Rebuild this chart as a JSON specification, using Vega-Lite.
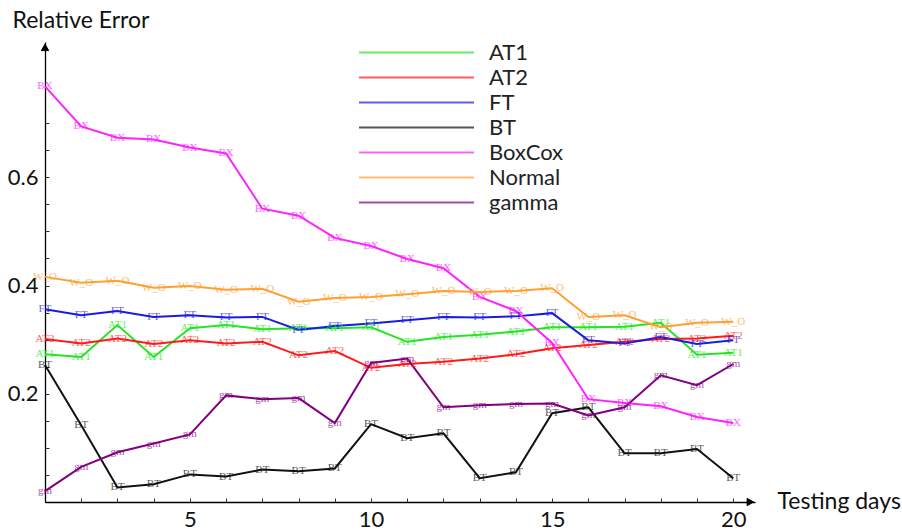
{
  "$schema": "https://vega.github.io/schema/vega-lite/v6.json",
  "width": 710,
  "height": 460,
  "autosize": {"type": "none"},
  "padding": {"left": 45, "top": 42, "right": 147, "bottom": 29},
  "background": "white",
  "config": {
    "view": {"stroke": null},
    "font": "Lato",
    "axis": {"grid": false, "domainColor": "#000", "domainWidth": 1.3, "tickColor": "#333", "tickWidth": 1, "labelColor": "#111", "titleColor": "#111", "labelFont": "Lato", "titleFont": "Lato", "labelFontSize": 22, "titleFontSize": 23, "titleFontWeight": "normal", "labelOverlap": false}
  },
  "datasets": {
    "codes": [
      {"m": "AT1", "code": "AT1"}, {"m": "AT2", "code": "AT2"}, {"m": "FT", "code": "FT"}, {"m": "BT", "code": "BT"},
      {"m": "BoxCox", "code": "BX"}, {"m": "Normal", "code": "W_O"}, {"m": "gamma", "code": "gm"}
    ],
    "arrows": [
      {"d": 20.47, "v": 0, "shape": "triangle-right"},
      {"d": 1, "v": 0.84, "shape": "triangle-up"}
    ],
    "errs": [
      {"m":"AT1","d":1,"v":0.273},{"m":"AT1","d":2,"v":0.268},{"m":"AT1","d":3,"v":0.327},{"m":"AT1","d":4,"v":0.268},{"m":"AT1","d":5,"v":0.321},{"m":"AT1","d":6,"v":0.327},{"m":"AT1","d":7,"v":0.319},{"m":"AT1","d":8,"v":0.321},{"m":"AT1","d":9,"v":0.321},{"m":"AT1","d":10,"v":0.323},{"m":"AT1","d":11,"v":0.296},{"m":"AT1","d":12,"v":0.305},{"m":"AT1","d":13,"v":0.309},{"m":"AT1","d":14,"v":0.315},{"m":"AT1","d":15,"v":0.323},{"m":"AT1","d":16,"v":0.323},{"m":"AT1","d":17,"v":0.324},{"m":"AT1","d":18,"v":0.331},{"m":"AT1","d":19,"v":0.272},{"m":"AT1","d":20,"v":0.276},
      {"m":"AT2","d":1,"v":0.301},{"m":"AT2","d":2,"v":0.293},{"m":"AT2","d":3,"v":0.302},{"m":"AT2","d":4,"v":0.292},{"m":"AT2","d":5,"v":0.299},{"m":"AT2","d":6,"v":0.293},{"m":"AT2","d":7,"v":0.296},{"m":"AT2","d":8,"v":0.271},{"m":"AT2","d":9,"v":0.279},{"m":"AT2","d":10,"v":0.248},{"m":"AT2","d":11,"v":0.255},{"m":"AT2","d":12,"v":0.259},{"m":"AT2","d":13,"v":0.265},{"m":"AT2","d":14,"v":0.273},{"m":"AT2","d":15,"v":0.284},{"m":"AT2","d":16,"v":0.290},{"m":"AT2","d":17,"v":0.296},{"m":"AT2","d":18,"v":0.301},{"m":"AT2","d":19,"v":0.302},{"m":"AT2","d":20,"v":0.307},
      {"m":"FT","d":1,"v":0.356},{"m":"FT","d":2,"v":0.345},{"m":"FT","d":3,"v":0.353},{"m":"FT","d":4,"v":0.342},{"m":"FT","d":5,"v":0.345},{"m":"FT","d":6,"v":0.341},{"m":"FT","d":7,"v":0.342},{"m":"FT","d":8,"v":0.318},{"m":"FT","d":9,"v":0.325},{"m":"FT","d":10,"v":0.330},{"m":"FT","d":11,"v":0.336},{"m":"FT","d":12,"v":0.342},{"m":"FT","d":13,"v":0.341},{"m":"FT","d":14,"v":0.343},{"m":"FT","d":15,"v":0.349},{"m":"FT","d":16,"v":0.299},{"m":"FT","d":17,"v":0.293},{"m":"FT","d":18,"v":0.305},{"m":"FT","d":19,"v":0.292},{"m":"FT","d":20,"v":0.299},
      {"m":"BT","d":1,"v":0.253},{"m":"BT","d":2,"v":0.142},{"m":"BT","d":3,"v":0.027},{"m":"BT","d":4,"v":0.033},{"m":"BT","d":5,"v":0.051},{"m":"BT","d":6,"v":0.047},{"m":"BT","d":7,"v":0.060},{"m":"BT","d":8,"v":0.057},{"m":"BT","d":9,"v":0.062},{"m":"BT","d":10,"v":0.144},{"m":"BT","d":11,"v":0.118},{"m":"BT","d":12,"v":0.127},{"m":"BT","d":13,"v":0.044},{"m":"BT","d":14,"v":0.055},{"m":"BT","d":15,"v":0.164},{"m":"BT","d":16,"v":0.175},{"m":"BT","d":17,"v":0.090},{"m":"BT","d":18,"v":0.090},{"m":"BT","d":19,"v":0.098},{"m":"BT","d":20,"v":0.044},
      {"m":"BoxCox","d":1,"v":0.768},{"m":"BoxCox","d":2,"v":0.694},{"m":"BoxCox","d":3,"v":0.673},{"m":"BoxCox","d":4,"v":0.670},{"m":"BoxCox","d":5,"v":0.655},{"m":"BoxCox","d":6,"v":0.644},{"m":"BoxCox","d":7,"v":0.542},{"m":"BoxCox","d":8,"v":0.529},{"m":"BoxCox","d":9,"v":0.488},{"m":"BoxCox","d":10,"v":0.473},{"m":"BoxCox","d":11,"v":0.449},{"m":"BoxCox","d":12,"v":0.432},{"m":"BoxCox","d":13,"v":0.379},{"m":"BoxCox","d":14,"v":0.353},{"m":"BoxCox","d":15,"v":0.294},{"m":"BoxCox","d":16,"v":0.190},{"m":"BoxCox","d":17,"v":0.183},{"m":"BoxCox","d":18,"v":0.177},{"m":"BoxCox","d":19,"v":0.157},{"m":"BoxCox","d":20,"v":0.146},
      {"m":"Normal","d":1,"v":0.416},{"m":"Normal","d":2,"v":0.405},{"m":"Normal","d":3,"v":0.409},{"m":"Normal","d":4,"v":0.396},{"m":"Normal","d":5,"v":0.399},{"m":"Normal","d":6,"v":0.392},{"m":"Normal","d":7,"v":0.394},{"m":"Normal","d":8,"v":0.370},{"m":"Normal","d":9,"v":0.377},{"m":"Normal","d":10,"v":0.379},{"m":"Normal","d":11,"v":0.384},{"m":"Normal","d":12,"v":0.390},{"m":"Normal","d":13,"v":0.388},{"m":"Normal","d":14,"v":0.390},{"m":"Normal","d":15,"v":0.395},{"m":"Normal","d":16,"v":0.342},{"m":"Normal","d":17,"v":0.345},{"m":"Normal","d":18,"v":0.323},{"m":"Normal","d":19,"v":0.331},{"m":"Normal","d":20,"v":0.333},
      {"m":"gamma","d":1,"v":0.020},{"m":"gamma","d":2,"v":0.065},{"m":"gamma","d":3,"v":0.092},{"m":"gamma","d":4,"v":0.108},{"m":"gamma","d":5,"v":0.125},{"m":"gamma","d":6,"v":0.197},{"m":"gamma","d":7,"v":0.190},{"m":"gamma","d":8,"v":0.192},{"m":"gamma","d":9,"v":0.146},{"m":"gamma","d":10,"v":0.257},{"m":"gamma","d":11,"v":0.265},{"m":"gamma","d":12,"v":0.175},{"m":"gamma","d":13,"v":0.179},{"m":"gamma","d":14,"v":0.181},{"m":"gamma","d":15,"v":0.182},{"m":"gamma","d":16,"v":0.160},{"m":"gamma","d":17,"v":0.175},{"m":"gamma","d":18,"v":0.234},{"m":"gamma","d":19,"v":0.216},{"m":"gamma","d":20,"v":0.255}
    ]
  },
  "encoding": {
    "x": {
      "field": "d", "type": "quantitative",
      "scale": {"domain": [1, 20.6], "nice": false, "zero": false},
      "axis": {
        "values": [1,2,3,4,5,6,7,8,9,10,11,12,13,14,15,16,17,18,19,20],
        "labelExpr": "datum.value % 5 == 0 ? datum.label : ''",
        "tickSize": -4, "labelPadding": 11, "labelOverlap": false,
        "title": "Testing days", "titleAngle": 0, "titleAlign": "left", "titleBaseline": "middle",
        "titleX": 732, "titleY": -1
      }
    },
    "y": {
      "field": "v", "type": "quantitative",
      "scale": {"domain": [0, 0.85], "nice": false, "zero": false},
      "axis": {
        "values": [0.05,0.1,0.15,0.2,0.25,0.3,0.35,0.4,0.45,0.5,0.55,0.6,0.65,0.7],
        "labelExpr": "round(datum.value*100) % 20 == 0 ? format(datum.value, '.1f') : ''",
        "tickSize": -4, "labelPadding": 11, "labelOverlap": false,
        "title": "Relative Error", "titleAngle": 0, "titleAlign": "left", "titleBaseline": "middle",
        "titleX": -33, "titleY": -22
      }
    }
  },
  "layer": [
    {
      "data": {"name": "arrows"},
      "mark": {"type": "point", "filled": true, "size": 55, "opacity": 1, "fill": "#000", "stroke": "#000", "strokeWidth": 1},
      "encoding": {"shape": {"field": "shape", "type": "nominal", "scale": null, "legend": null}}
    },
    {
      "data": {"name": "errs"},
      "transform": [
        {"lookup": "m", "from": {"data": {"name": "codes"}, "key": "m", "fields": ["code"]}}
      ],
      "encoding": {
        "color": {
          "field": "m", "type": "nominal",
          "scale": {
            "domain": ["AT1", "AT2", "FT", "BT", "BoxCox", "Normal", "gamma"],
            "range": ["#22e622", "#ff1a1a", "#1a1ae6", "#111111", "#ff22ff", "#ffa033", "#800080"]
          },
          "legend": {
            "orient": "none", "legendX": 359, "legendY": -2, "title": null,
            "symbolType": "M-5,0H5", "symbolSize": 529, "symbolStrokeWidth": 2,
            "labelFontSize": 22, "labelFont": "Lato", "labelColor": "#222", "labelOffset": 60, "rowPadding": 1
          }
        }
      },
      "layer": [
        {"mark": {"type": "line", "strokeWidth": 2}},
        {
          "mark": {"type": "text", "font": "Liberation Serif", "fontSize": 11, "opacity": 0.7},
          "encoding": {"text": {"field": "code"}}
        }
      ]
    }
  ]
}
